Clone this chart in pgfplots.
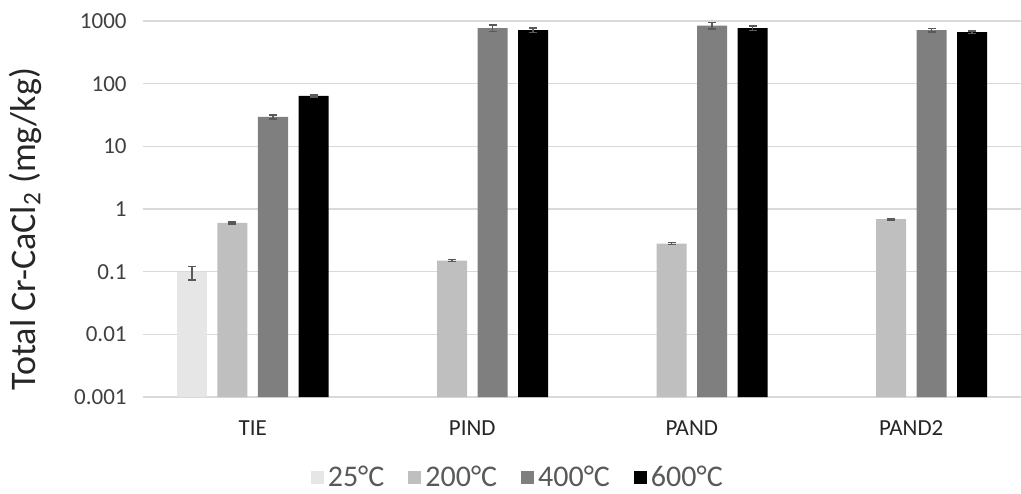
\documentclass[border=0pt]{standalone}
\usepackage{pgfplots}
\pgfplotsset{compat=1.18}
\usepackage{fontspec}
\setmainfont{Carlito}
\definecolor{cA}{HTML}{E6E6E6}
\definecolor{cB}{HTML}{BFBFBF}
\definecolor{cC}{HTML}{7F7F7F}
\definecolor{cD}{HTML}{000000}
\definecolor{gridc}{HTML}{D9D9D9}
\definecolor{errc}{HTML}{595959}
\definecolor{tickc}{HTML}{404040}
\definecolor{catc}{HTML}{262626}
\definecolor{legc}{HTML}{595959}
\begin{document}
\begin{tikzpicture}
\begin{axis}[
  at={(0,0)}, anchor=south west,
  scale only axis, width=439pt, height=188pt,
  ybar=5.25pt, bar width=15pt,
  ymode=log, ymin=0.001, ymax=1000, log origin=infty,
  xmin=-0.5, xmax=3.5,
  xtick={0,1,2,3}, xticklabels={TIE,PIND,PAND,PAND2},
  ytick={0.001,0.01,0.1,1,10,100,1000},
  yticklabels={0.001,0.01,0.1,1,10,100,1000},
  ymajorgrids, grid style={color=gridc, line width=0.75pt},
  axis line style={draw=none},
  major tick length=0pt, minor tick num=0,
  yminorticks=false,
  clip=false,
  xticklabel style={anchor=base, yshift=-19pt, font=\fontsize{11.5}{13}\selectfont, text=catc},
  yticklabel style={anchor=east, inner sep=0pt, xshift=-8pt, font=\fontsize{11.5}{13}\selectfont, text=tickc},
  every axis y label/.style={at={(axis description cs:-0.1344,0.447)}, rotate=90, anchor=center, font=\fontsize{18}{20}\selectfont, text=catc},
  ylabel={Total Cr-CaCl\textsubscript{2} (mg/kg)},
  legend style={at={(axis description cs:0.428,-0.2154)}, anchor=center, draw=none, fill=none,
    font=\fontsize{15}{17}\selectfont, text=legc,
    /tikz/every even column/.append style={column sep=10pt}},
  legend columns=4,
  legend image code/.code={\draw[#1,draw=none] (0pt,-3.25pt) rectangle (6.5pt,3.25pt);},
  error bars/error bar style={color=errc, line width=0.75pt},
  error bars/error mark options={rotate=90, mark size=2pt, color=errc, line width=0.75pt},
]
\addplot[fill=cA, draw=none,
  error bars/.cd, y dir=both, y explicit]
  coordinates {(0,0.098) +- (0,0.024)};
\addlegendentry{25°C}
\addplot[fill=cB, draw=none,
  error bars/.cd, y dir=both, y explicit]
  coordinates {(0,0.60) +- (0,0.02) (1,0.15) +- (0,0.005) (2,0.28) +- (0,0.01) (3,0.69) +- (0,0.02)};
\addlegendentry{200°C}
\addplot[fill=cC, draw=none,
  error bars/.cd, y dir=both, y explicit]
  coordinates {(0,29.5) +- (0,2) (1,770) +- (0,90) (2,840) +- (0,100) (3,715) +- (0,50)};
\addlegendentry{400°C}
\addplot[fill=cD, draw=none,
  error bars/.cd, y dir=both, y explicit]
  coordinates {(0,64) +- (0,2.5) (1,715) +- (0,60) (2,770) +- (0,60) (3,665) +- (0,30)};
\addlegendentry{600°C}
\end{axis}
\pgfresetboundingbox
\path[use as bounding box] (-71.5pt,-48pt) rectangle (439pt,198.5pt);
\end{tikzpicture}
\end{document}
